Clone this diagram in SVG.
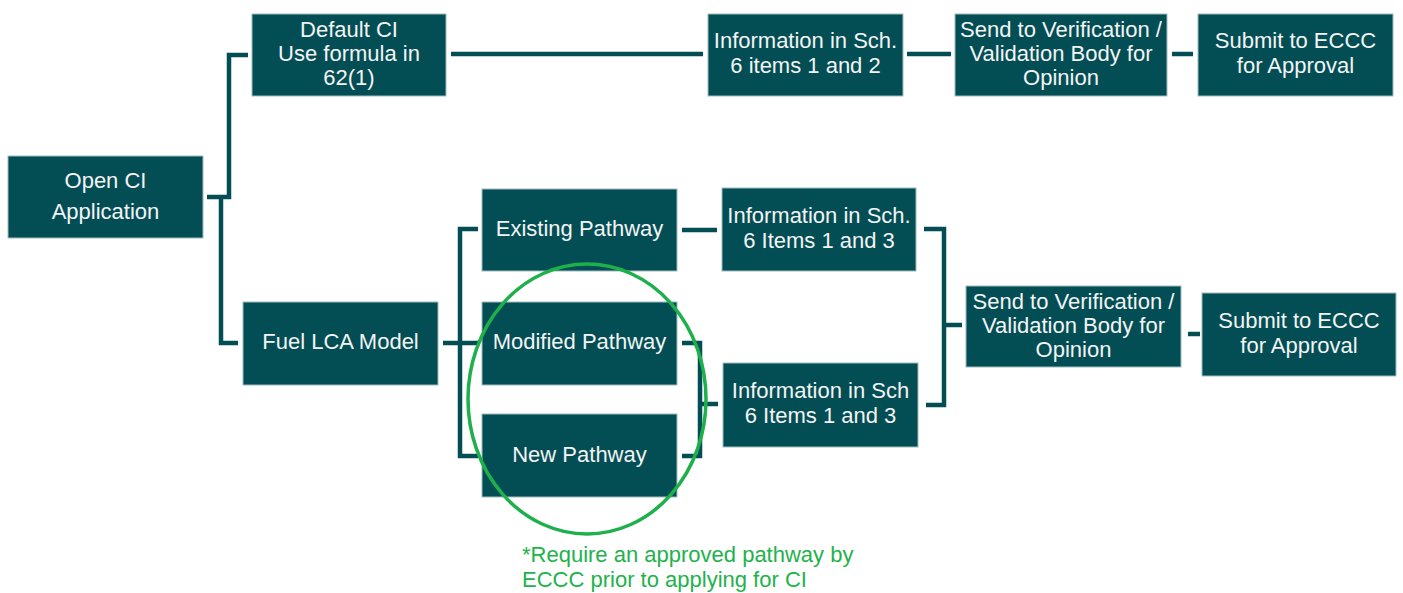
<svg xmlns="http://www.w3.org/2000/svg" width="1403" height="593" viewBox="0 0 1403 593">
<style>
.box{fill:#034E55;stroke:#9fbcbf;stroke-width:1}
.t{font-family:"Liberation Sans",Arial,sans-serif;font-size:22px;fill:#F4F4F4;text-anchor:middle}
.c{fill:none;stroke:#034E55;stroke-width:4.5;stroke-linejoin:miter;stroke-linecap:butt}
.note{font-family:"Liberation Sans",Arial,sans-serif;font-size:22px;fill:#22B24C}
</style>
<rect width="1403" height="593" fill="#ffffff"/>
<g id="connectors">
<path class="c" d="M207 197 H229 V55 H248"/>
<path class="c" d="M221 197 V343 H238"/>
<path class="c" d="M451 54 H703"/>
<path class="c" d="M907 54 H951"/>
<path class="c" d="M1172 54 H1193"/>
<path class="c" d="M443 343 H478"/>
<path class="c" d="M478 229 H460 V456 H478"/>
<path class="c" d="M682 230 H717"/>
<path class="c" d="M682 343 H700 V456 H682"/>
<path class="c" d="M700 404 H718"/>
<path class="c" d="M924 229 H944 V405 H926"/>
<path class="c" d="M944 325 H962"/>
<path class="c" d="M1188 334 H1200"/>
</g>
<g id="open-ci">
<rect class="box" x="8" y="156" width="195" height="82"/>
<text class="t" x="105.5" y="188">Open CI</text>
<text class="t" x="105.5" y="219">Application</text>
</g>
<g id="default-ci">
<rect class="box" x="252" y="14" width="194" height="82"/>
<text class="t" x="349" y="37">Default CI</text>
<text class="t" x="349" y="61">Use formula in</text>
<text class="t" x="349" y="85">62(1)</text>
</g>
<g id="info-12">
<rect class="box" x="708" y="14" width="195" height="82"/>
<text class="t" x="805.5" y="48">Information in Sch.</text>
<text class="t" x="805.5" y="73">6 items 1 and 2</text>
</g>
<g id="send-top">
<rect class="box" x="955" y="14" width="212" height="82"/>
<text class="t" x="1061" y="37">Send to Verification /</text>
<text class="t" x="1061" y="61">Validation Body for</text>
<text class="t" x="1061" y="85">Opinion</text>
</g>
<g id="submit-top">
<rect class="box" x="1198" y="14" width="195" height="82"/>
<text class="t" x="1295.5" y="48">Submit to ECCC</text>
<text class="t" x="1295.5" y="73">for Approval</text>
</g>
<g id="fuel-lca">
<rect class="box" x="243" y="302" width="195" height="83"/>
<text class="t" x="340.5" y="349">Fuel LCA Model</text>
</g>
<g id="existing">
<rect class="box" x="482" y="189" width="195" height="82"/>
<text class="t" x="579.5" y="236">Existing Pathway</text>
</g>
<g id="modified">
<rect class="box" x="482" y="302" width="195" height="83"/>
<text class="t" x="579.5" y="349">Modified Pathway</text>
</g>
<g id="new">
<rect class="box" x="482" y="414" width="195" height="83"/>
<text class="t" x="579.5" y="462">New Pathway</text>
</g>
<g id="info-13-top">
<rect class="box" x="722" y="188" width="194" height="83"/>
<text class="t" x="819" y="223">Information in Sch.</text>
<text class="t" x="819" y="248">6 Items 1 and 3</text>
</g>
<g id="info-13-bottom">
<rect class="box" x="723" y="363" width="195" height="84"/>
<text class="t" x="820.5" y="398">Information in Sch</text>
<text class="t" x="820.5" y="423">6 Items 1 and 3</text>
</g>
<g id="send-bottom">
<rect class="box" x="966" y="286" width="215" height="81"/>
<text class="t" x="1073.5" y="309">Send to Verification /</text>
<text class="t" x="1073.5" y="333">Validation Body for</text>
<text class="t" x="1073.5" y="357">Opinion</text>
</g>
<g id="submit-bottom">
<rect class="box" x="1202" y="293" width="194" height="83"/>
<text class="t" x="1299" y="328">Submit to ECCC</text>
<text class="t" x="1299" y="353">for Approval</text>
</g>
<g id="highlight">
<ellipse cx="587" cy="399" rx="119" ry="135" fill="none" stroke="#1DB04B" stroke-width="3.5"/>
<text class="note" x="522" y="562">*Require an approved pathway by</text>
<text class="note" x="522" y="587">ECCC prior to applying for CI</text>
</g>
</svg>
